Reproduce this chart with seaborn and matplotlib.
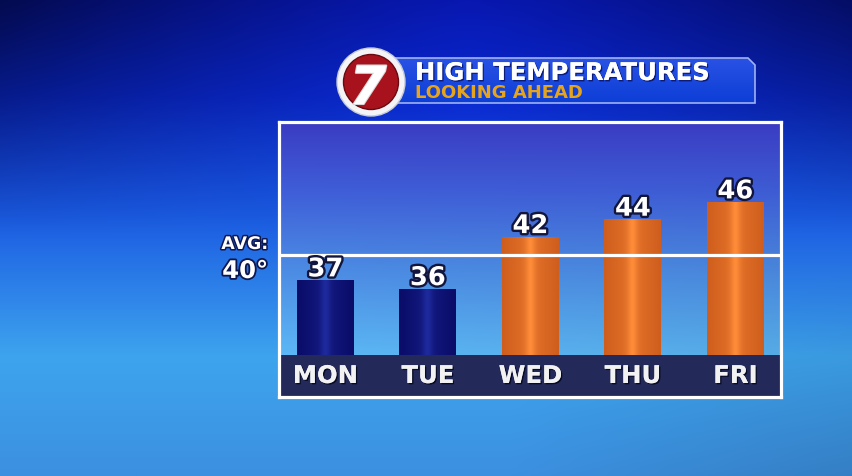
import numpy as np
import matplotlib
matplotlib.use("Agg")
import matplotlib.pyplot as plt
import matplotlib.patheffects as pe
from matplotlib.colors import to_rgb
from matplotlib.patches import Circle, Polygon
import seaborn as sns
import pandas as pd

# ---------------- data ----------------
days = ["MON", "TUE", "WED", "THU", "FRI"]
highs = [37, 36, 42, 44, 46]
avg_high = 40
bar_colors = ["#0c0e78", "#0c0e78", "#e06a28", "#e06a28", "#e06a28"]
bar_edge_shades = ["#0a0c68", "#0a0c68", "#cf5e1e", "#cf5e1e", "#cf5e1e"]
bar_center_shades = ["#1e2a9e", "#1e2a9e", "#ff8c38", "#ff8c38", "#ff8c38"]
title = "HIGH TEMPERATURES"
subtitle = "LOOKING AHEAD"
avg_label = "AVG:"
logo_text = "7"

sns.set_theme(style="white")
plt.rcParams['font.family'] = ['DejaVu Sans']

W, H = 852, 476
fig = plt.figure(figsize=(W / 100, H / 100), dpi=100)

# ---------------- background ----------------
bg = fig.add_axes([0, 0, 1, 1])
bg.axis('off')
yy, xx = np.mgrid[0:1:240j, 0:1:430j]
sy = [0.0, 0.2, 0.45, 0.75, 1.0]
cy = np.array([to_rgb(c) for c in ["#0818b0", "#0a28d0", "#1a5ae2", "#3ea4ee", "#3c90e0"]])
img = np.zeros(yy.shape + (3,))
for k in range(3):
    img[..., k] = np.interp(yy, sy, cy[:, k])
vig = 1 - 0.55 * np.clip(1 - yy / 0.5, 0, 1) * (np.abs(xx - 0.55) / 0.55) ** 1.3
vig *= 1 - 0.12 * np.clip((xx - 0.6) / 0.4, 0, 1) * np.clip((yy - 0.5) / 0.5, 0, 1)
img = np.clip(img * vig[..., None], 0, 1)
bg.imshow(img, extent=[0, 1, 0, 1], aspect='auto', origin='upper')
bg.set_xlim(0, 1)
bg.set_ylim(0, 1)

# ---------------- main chart ----------------
ax = fig.add_axes([279 / W, 1 - 397 / H, 502 / W, 275 / H])
df = pd.DataFrame({"day": days, "high": highs})
sns.barplot(data=df, x="day", y="high", hue="day", palette=bar_colors,
            legend=False, width=0.556, saturation=1, linewidth=0,
            ax=ax, zorder=2)
bars = sorted(list(ax.patches), key=lambda p: p.get_x())

XL = (-0.453, 4.445)
YL = (23.56, 55.30)
strip_top = 28.41

# plot-area gradient
ty = np.linspace(0, 1, 200)[:, None] * np.ones((1, 100))
tx = np.ones((200, 1)) * np.linspace(0, 1, 100)[None, :]
si = [0.0, 0.25, 0.5, 0.85, 1.0]
ci = np.array([to_rgb(c) for c in ["#3a3cc2", "#3f5ed8", "#4a86e2", "#5cb8f6", "#5cb8f6"]])
inner = np.zeros(ty.shape + (3,))
for k in range(3):
    inner[..., k] = np.interp(ty, si, ci[:, k])
inner *= (1 - 0.08 * tx * ty)[..., None]
ax.imshow(np.clip(inner, 0, 1), extent=[XL[0], XL[1], YL[0], YL[1]],
          aspect='auto', origin='upper', zorder=0)

# bar shading
for p, ec, cc in zip(bars, bar_edge_shades, bar_center_shades):
    t = np.linspace(-1, 1, 80)
    w = 0.45 * (1 - np.abs(t)) + 0.55 * np.exp(-(t / 0.18) ** 2)
    e = np.array(to_rgb(ec))
    c = np.array(to_rgb(cc))
    g = (e[None, :] * (1 - w[:, None]) + c[None, :] * w[:, None])[None, :, :]
    x0, y0, bw, bh = p.get_x(), p.get_y(), p.get_width(), p.get_height()
    ax.imshow(g, extent=[x0, x0 + bw, y0, y0 + bh], aspect='auto', zorder=2.1)

# bottom label strip
ax.axhspan(YL[0], strip_top, color="#232a5a", zorder=3, lw=0)
# average line
ax.axhline(avg_high, color='white', lw=2.3, zorder=4)

stroke = [pe.withStroke(linewidth=3.4, foreground='#12163c')]
for p, v in zip(bars, highs):
    ax.annotate(f"{v}", (p.get_x() + p.get_width() / 2, p.get_y() + p.get_height()),
                xytext=(0, 3), textcoords='offset points', ha='center', va='baseline',
                fontsize=18.5, weight='bold', color='white', path_effects=stroke, zorder=6)

for i, d in enumerate(days):
    ax.text(i, 25.18, d, ha='center', va='baseline', fontsize=17.5, weight='bold',
            color='#f2f2f2', zorder=6,
            path_effects=[pe.withSimplePatchShadow(offset=(1, -1), shadow_rgbFace='#05081e', alpha=0.9),
                          pe.Normal()])

ax.set_xlim(*XL)
ax.set_ylim(*YL)
ax.set_xlabel('')
ax.set_ylabel('')
ax.set_xticks([])
ax.set_yticks([])
ax.patch.set_alpha(0)
for s in ax.spines.values():
    s.set_color('white')
    s.set_linewidth(2.3)
    s.set_zorder(7)

# ---------------- overlay (title, avg label) ----------------
ov = fig.add_axes([0, 0, 1, 1], zorder=10)
ov.set_xlim(0, W)
ov.set_ylim(H, 0)
ov.axis('off')
ov.patch.set_alpha(0)

ov.text(245, 249, avg_label, ha='center', va='baseline', fontsize=12.5, weight='bold',
        color='white', path_effects=[pe.withStroke(linewidth=2.2, foreground='#0e1850')])
ov.text(245, 278, f"{avg_high}°", ha='center', va='baseline', fontsize=17.5, weight='bold',
        color='white', path_effects=[pe.withStroke(linewidth=2.6, foreground='#0e1850')])

# banner
poly = Polygon([(392, 58), (748, 58), (755, 65), (755, 103), (392, 103)], closed=True,
               facecolor='none', edgecolor='#9fb2ee', lw=1.2, zorder=2)
ov.add_patch(poly)
gb = np.linspace(0, 1, 50)[:, None]
bcol = np.array([to_rgb("#2a52e4"), to_rgb("#0c3ed6")])
bimg = (bcol[0][None, None, :] * (1 - gb[..., None]) + bcol[1][None, None, :] * gb[..., None]) * np.ones((1, 10, 1))
im = ov.imshow(bimg, extent=[392, 755, 103, 58], aspect='auto', zorder=1)
im.set_clip_path(poly)
ov.set_xlim(0, W)
ov.set_ylim(H, 0)

ov.add_patch(Circle((371, 82), 34, facecolor='#f4f4f6', edgecolor='#c8ccd8', lw=1, zorder=3))
ov.add_patch(Circle((371, 82), 27.5, facecolor='#a8121c', edgecolor='#6a0a10', lw=1, zorder=4))
ov.text(368, 104, logo_text, ha='center', va='baseline', fontsize=38, weight='bold',
        style='italic', color='white', zorder=5,
        path_effects=[pe.withStroke(linewidth=1.5, foreground='#d8d8d8')])

ov.text(415, 80, title, ha='left', va='baseline', fontsize=17.5, weight='bold',
        color='white', zorder=5,
        path_effects=[pe.withSimplePatchShadow(offset=(1, -1), shadow_rgbFace='#061060', alpha=0.8),
                      pe.Normal()])
ov.text(415, 98.5, subtitle, ha='left', va='baseline', fontsize=13, weight='bold',
        color='#e6a41c', zorder=5)

fig.savefig("out.png", dpi=100)
